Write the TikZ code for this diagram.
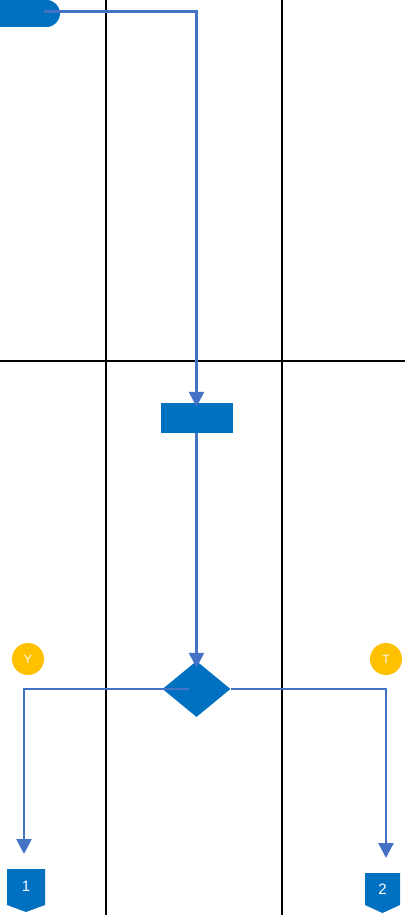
\documentclass[tikz,border=0pt]{standalone}
\usepackage{fontspec}
\setmainfont{Liberation Sans}
\usetikzlibrary{arrows.meta,shapes.geometric}
\definecolor{fillblue}{HTML}{0070C0}
\definecolor{linkblue}{HTML}{4472C4}
\definecolor{ylw}{HTML}{FFC000}
\begin{document}
\begin{tikzpicture}[x=1pt,y=-1pt,
  grid/.style={draw=black,line width=1.8pt},
  link/.style={draw=linkblue,line width=2.4pt,-{Triangle[width=15pt,length=15pt]}},
  proc/.style={fill=fillblue,draw=none,minimum width=72pt,minimum height=30pt,inner sep=0pt},
  dec/.style={diamond,fill=fillblue,draw=none,minimum width=68pt,minimum height=56pt,inner sep=0pt,aspect=1.2},
  badge/.style={circle,fill=ylw,draw=none,minimum size=32pt,inner sep=0pt,text=white,font=\fontsize{12}{13}\selectfont},
  offp/.style={fill=fillblue,draw=none},
  offtxt/.style={text=white,font=\fontsize{15}{16}\selectfont,inner sep=0pt}
]
\useasboundingbox (0,0) rectangle (405,915);
\clip (0,0) rectangle (405,915);
% swimlane grid
\draw[grid] (106,0) -- (106,915);
\draw[grid] (282,0) -- (282,915);
\draw[grid] (0,361) -- (405,361);
% start terminal
\fill[fillblue, rounded corners=13.5pt] (-40,0) rectangle (60,27);
\coordinate (start) at (44,11.5);
% process box
\node[proc] (box) at (196.5,418) {};
% decision
\node[dec] (dia) at (196.5,689) {};
\coordinate (diaL) at (189,689);
% off-page connectors
\fill[offp] (7,869) -- (45,869) -- (45,905) -- (26,912) -- (7,905) -- cycle;
\node[offtxt] (op1) at (26,886) {1};
\fill[offp] (365,873) -- (400,873) -- (400,905) -- (382.5,913) -- (365,905) -- cycle;
\node[offtxt] (op2) at (382.5,889) {2};
% badges
\node[badge] (y) at (28,659) {Y};
\node[badge] (t) at (386,659) {T};
% connectors
\draw[link] (start) -- (196.5,11.5) -- ([yshift=-4pt]box.north);
\draw[link] (box.south) -- ([yshift=-7pt]dia.north);
\draw[link] (diaL) -- (24,689) -- (24,854);
\draw[link] (dia.east) -- (386,689) -- (386,858);
\end{tikzpicture}
\end{document}
